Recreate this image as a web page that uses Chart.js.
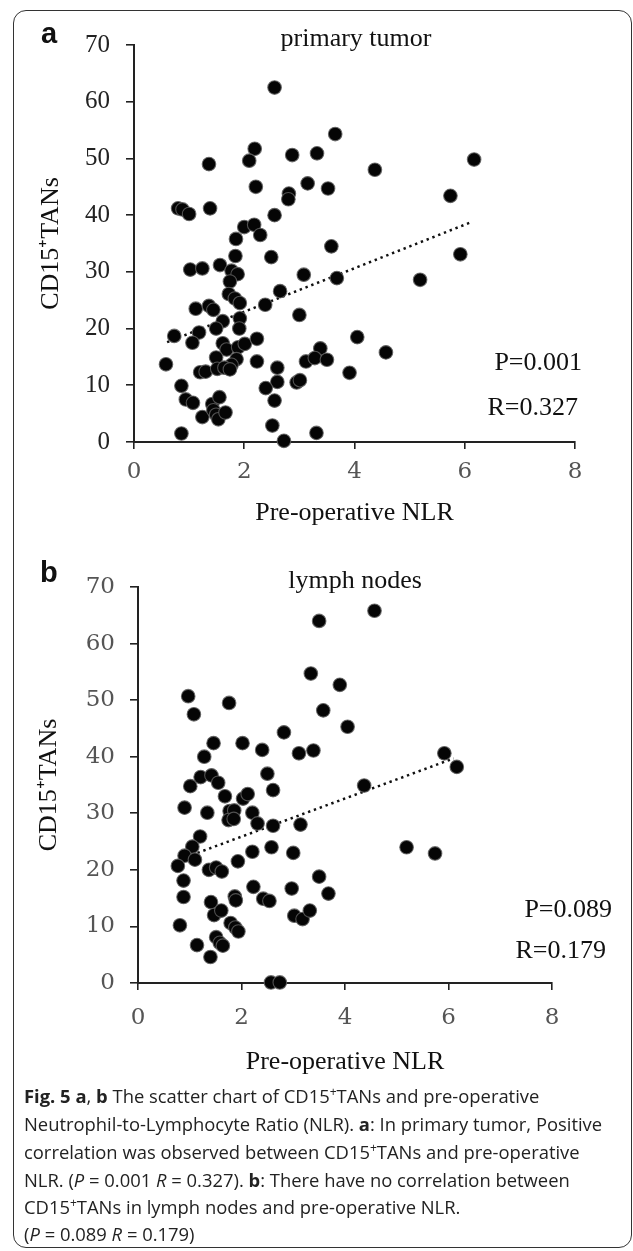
<!DOCTYPE html>
<html><head><meta charset="utf-8">
<script src="https://cdn.jsdelivr.net/npm/chart.js@4.4.1/dist/chart.umd.min.js"></script>
<style>
html,body{margin:0;padding:0;background:#fff;}
body{width:633px;height:1251px;position:relative;overflow:hidden;}
#frame{position:absolute;left:13px;top:10px;width:619px;height:1238px;border:1.6px solid #333;border-radius:13px;box-sizing:border-box;}
#ca{position:absolute;left:0;top:0;}
#cb{position:absolute;left:0;top:540px;}
#ov{position:absolute;left:0;top:0;}
</style></head><body>
<div id="frame"></div>
<canvas id="ca" width="633" height="540"></canvas>
<canvas id="cb" width="633" height="560"></canvas>
<svg id="ov" width="633" height="1251" xmlns="http://www.w3.org/2000/svg">
<g font-family="Liberation Serif" font-size="26" fill="#111">
<text x="356" y="46" text-anchor="middle">primary tumor</text>
<text x="582" y="370" text-anchor="end">P=0.001</text>
<text x="578" y="415" text-anchor="end">R=0.327</text>
<text x="355" y="588" text-anchor="middle">lymph nodes</text>
<text x="612" y="917" text-anchor="end">P=0.089</text>
<text x="606" y="958" text-anchor="end">R=0.179</text>
</g>
<g font-family="Liberation Sans" font-weight="bold" font-size="29" fill="#111">
<text x="41" y="43">a</text>
<text x="40" y="582">b</text>
</g>
<g font-family="Open Sans" font-size="18.4" fill="#222">
<text x="24" y="1103"><tspan font-weight="bold">Fig. 5 a</tspan>, <tspan font-weight="bold">b</tspan> The scatter chart of CD15<tspan dy="-7" font-size="12">+</tspan><tspan dy="7">TANs and pre-operative</tspan></text>
<text x="24" y="1131">Neutrophil-to-Lymphocyte Ratio (NLR). <tspan font-weight="bold">a</tspan>: In primary tumor, Positive</text>
<text x="24" y="1159">correlation was observed between CD15<tspan dy="-7" font-size="12">+</tspan><tspan dy="7">TANs and pre-operative</tspan></text>
<text x="24" y="1187">NLR. (<tspan font-style="italic">P</tspan> = 0.001 <tspan font-style="italic">R</tspan> = 0.327). <tspan font-weight="bold">b</tspan>: There have no correlation between</text>
<text x="24" y="1214">CD15<tspan dy="-7" font-size="12">+</tspan><tspan dy="7">TANs in lymph nodes and pre-operative NLR.</tspan></text>
<text x="24" y="1241">(<tspan font-style="italic">P</tspan> = 0.089 <tspan font-style="italic">R</tspan> = 0.179)</text>
</g>
</svg>
<script>
// ---- data ----
const xTickValues = [0, 2, 4, 6, 8];
const yTickValues = [0, 10, 20, 30, 40, 50, 60, 70];
const xTitle = 'Pre-operative NLR';
const yTitle = 'CD15\u207ATANs';

// panel a: primary tumor
const tumorNLR = [2.55,3.65,2.19,2.09,2.87,3.32,1.36,4.37,6.17,2.21,3.15,3.52,2.81,2.80,5.74,0.80,0.88,1.00,1.38,2.55,
  2.00,2.18,2.29,1.85,3.58,5.92,1.84,2.49,1.02,1.24,1.56,1.77,1.88,3.08,3.68,5.19,1.74,1.72,1.83,1.92,
  2.65,2.38,1.12,1.36,1.44,1.61,1.92,1.91,1.49,3.00,0.73,1.18,1.06,1.61,1.68,1.89,2.01,2.23,4.05,4.57,
  3.38,0.58,1.49,1.86,1.77,2.23,1.20,1.30,1.51,1.64,1.74,2.60,3.12,3.28,3.50,3.91,2.60,2.55,2.39,2.95,
  3.01,0.86,0.94,1.07,1.42,1.55,1.24,1.44,1.49,1.53,1.66,2.51,0.86,2.72,3.31];
const tumorTANs = [62.5,54.3,51.7,49.6,50.6,50.9,49.0,48.0,49.8,45.0,45.6,44.7,43.8,42.8,43.4,41.2,41.0,40.2,41.2,40.0,
  37.9,38.3,36.5,35.8,34.5,33.1,32.8,32.6,30.4,30.6,31.2,30.2,29.6,29.5,28.9,28.6,28.3,26.1,25.3,24.5,
  26.6,24.2,23.5,24.0,23.3,21.3,21.8,20.0,20.0,22.4,18.7,19.3,17.5,17.4,16.3,16.7,17.3,18.2,18.5,15.8,
  16.5,13.7,14.9,14.6,13.6,14.2,12.3,12.4,12.9,13.1,12.8,13.1,14.2,14.8,14.5,12.2,10.6,7.3,9.5,10.5,
  10.9,9.9,7.5,6.9,6.7,7.9,4.4,5.6,4.8,4.0,5.2,2.9,1.5,0.2,1.6];
const tumorTrendNLR = [0.6, 6.1];
const tumorTrendTANs = [17.6, 38.7];

// panel b: lymph nodes
const nodeNLR = [4.57,3.50,3.34,3.90,0.97,1.76,1.08,3.58,4.05,2.82,1.46,2.02,2.40,3.11,3.39,1.28,5.92,6.16,4.37,1.21,
  1.42,1.55,1.01,1.68,2.50,2.61,2.03,2.12,0.90,1.34,1.77,1.86,1.75,1.85,2.21,2.31,2.61,3.14,1.20,1.05,
  0.90,1.10,0.77,1.37,1.51,1.62,1.93,2.21,2.58,3.00,5.19,5.74,0.88,0.88,0.81,2.23,2.42,2.54,2.97,3.50,
  3.68,3.02,3.18,3.32,1.41,1.47,1.61,1.87,1.89,1.79,1.88,1.94,1.14,1.51,1.58,1.64,1.40,2.57,2.74];
const nodeTANs = [65.8,64.0,54.7,52.7,50.7,49.5,47.5,48.2,45.3,44.3,42.4,42.4,41.2,40.6,41.1,40.0,40.6,38.2,34.9,36.4,
  36.7,35.4,34.8,33.0,37.0,34.1,32.6,33.4,31.0,30.1,30.4,30.5,28.8,29.0,30.1,28.2,27.8,28.0,25.9,24.1,
  22.5,21.8,20.7,20.0,20.4,19.7,21.5,23.2,24.0,23.0,24.0,22.9,18.1,15.2,10.2,17.0,14.9,14.5,16.7,18.8,
  15.8,11.9,11.3,12.8,14.3,12.0,12.8,15.3,14.6,10.6,9.8,9.1,6.7,8.1,7.1,6.6,4.6,0.1,0.1];
const nodeTrendNLR = [1.15, 6.1];
const nodeTrendTANs = [23.0, 39.7];

function makeChart(id, xs, ys, txs, tys, cfg) {
  const pts = xs.map((x, i) => ({x: x, y: ys[i]}));
  const trend = txs.map((x, i) => ({x: x, y: tys[i]}));
  return new Chart(document.getElementById(id), {
    type: 'scatter',
    data: {datasets: [
      {data: pts, backgroundColor: '#050505', borderColor: 'rgba(95,95,95,0.85)', borderWidth: 1.1,
       pointRadius: 6.8, pointHoverRadius: 6.8, clip: false, order: 1},
      {type: 'line', data: trend, borderColor: '#111', borderWidth: 2.5, borderDash: [2.4, 3.8],
       pointRadius: 0, fill: false, clip: false, order: 2}
    ]},
    options: {
      responsive: false, animation: false, events: [],
      layout: {padding: {left: 0, top: cfg.top, right: cfg.right, bottom: 0}},
      plugins: {legend: {display: false}, tooltip: {enabled: false}, title: {display: false}},
      scales: {
        x: {
          type: 'linear', min: 0, max: 8,
          afterBuildTicks: s => { s.ticks = xTickValues.map(v => ({value: v})); },
          afterFit: s => { s.height = cfg.xh; },
          ticks: {font: {family: cfg.xtFont, size: cfg.xtSize}, color: cfg.xtColor, padding: cfg.xtPad},
          grid: {display: true, drawOnChartArea: false, drawTicks: true, tickLength: 7, color: '#222', lineWidth: 1.6},
          border: {display: true, color: '#222', width: 2},
          title: {display: true, text: xTitle, color: '#111', font: {family: 'Liberation Serif', size: 26},
                  padding: {top: 0, bottom: cfg.xTitlePad}}
        },
        y: {
          type: 'linear', min: 0, max: 70,
          afterBuildTicks: s => { s.ticks = yTickValues.map(v => ({value: v})); },
          afterFit: s => { s.width = cfg.yw; },
          ticks: {font: {family: cfg.ytFont, size: cfg.ytSize}, color: cfg.ytColor, padding: cfg.ytPad},
          grid: {display: true, drawOnChartArea: false, drawTicks: true, tickLength: 8, color: '#222', lineWidth: 1.6},
          border: {display: true, color: '#222', width: 2},
          title: {display: true, text: yTitle, color: '#111', font: {family: 'Liberation Serif', size: 26},
                  padding: {top: cfg.yTitlePad, bottom: 0}}
        }
      }
    }
  });
}

makeChart('ca', tumorNLR, tumorTANs, tumorTrendNLR, tumorTrendTANs, {
  top: 45, right: 58, xh: 98, yw: 134,
  xtFont: 'DejaVu Serif', xtSize: 23, xtColor: '#555', xtPad: 9,
  ytFont: 'Liberation Serif', ytSize: 25, ytColor: '#222', ytPad: 16,
  xTitlePad: 11, yTitlePad: 36
});
makeChart('cb', nodeNLR, nodeTANs, nodeTrendNLR, nodeTrendTANs, {
  top: 47, right: 81, xh: 117, yw: 138,
  xtFont: 'DejaVu Serif', xtSize: 23, xtColor: '#555', xtPad: 14,
  ytFont: 'DejaVu Serif', ytSize: 23, ytColor: '#555', ytPad: 15,
  xTitlePad: 22, yTitlePad: 34
});
</script>
</body></html>
